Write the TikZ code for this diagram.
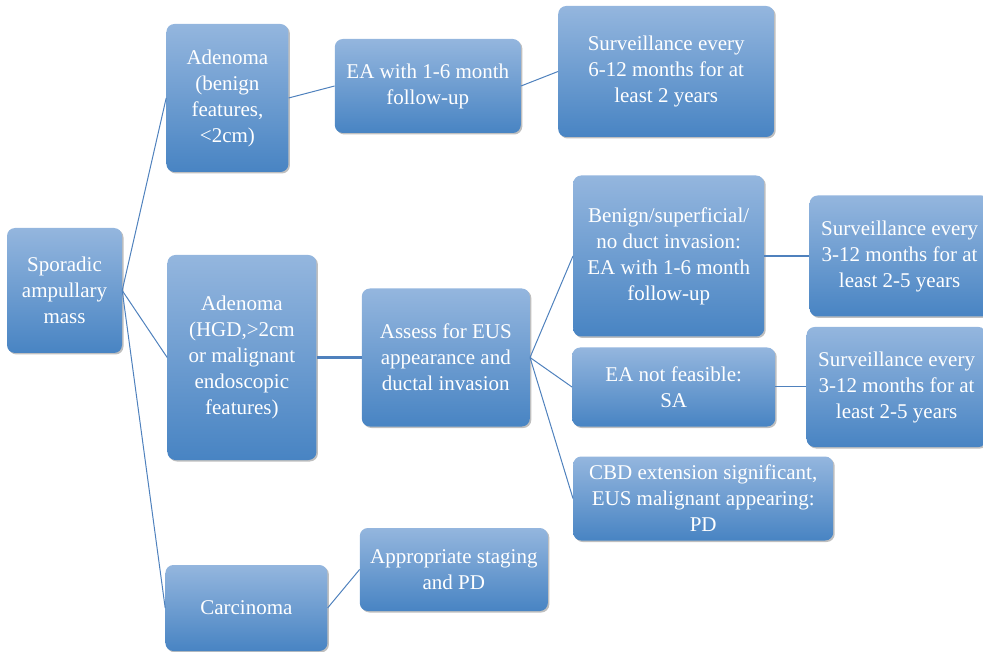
\documentclass[tikz,border=0pt]{standalone}
\usepackage{fontspec}
\setmainfont{Liberation Serif}
\usepackage{tikz}
\usetikzlibrary{positioning, shadows}
\definecolor{boxtop}{RGB}{148,182,222}
\definecolor{boxbottom}{RGB}{72,132,195}
\definecolor{linkblue}{RGB}{79,129,189}
\tikzset{
    box/.style={rectangle, rounded corners=8pt, top color=boxtop, bottom color=boxbottom, draw=none, text=white, align=center, inner sep=2pt, font=\fontsize{21}{26}\selectfont, drop shadow={shadow xshift=1.5pt, shadow yshift=-1.5pt, fill=black, opacity=0.25}},
    link/.style={draw=linkblue, line width=1pt},
    thicklink/.style={draw=linkblue, line width=2.5pt}
}
\begin{document}
\begin{tikzpicture}[x=1pt, y=1pt]
    \useasboundingbox (0,0) rectangle (983,-652);

    % root
    \node[box, minimum width=115pt, minimum height=125pt] (root) at (64.5,-290.5) {Sporadic\\ampullary\\mass};

    % second column
    \node[box, minimum width=122pt, minimum height=148pt, right=44pt of root, yshift=192.5pt] (adenoma_benign) {Adenoma\\(benign\\features,\\<2cm)};
    \node[box, minimum width=149pt, minimum height=205pt, right=45pt of root, yshift=-67pt] (adenoma_hgd) {Adenoma\\(HGD,>2cm\\or malignant\\endoscopic\\features)};
    \node[box, minimum width=162pt, minimum height=86pt, right=43pt of root, yshift=-317.5pt] (carcinoma) {Carcinoma};

    % third column
    \node[box, minimum width=186pt, minimum height=94pt, right=46pt of adenoma_benign, yshift=12pt] (ea_followup) {EA with 1-6 month\\follow-up};
    \node[box, minimum width=168pt, minimum height=138pt, right=45pt of adenoma_hgd] (assess_eus) {Assess for EUS\\appearance and\\ductal invasion};
    \node[box, minimum width=188pt, minimum height=83pt, right=32pt of carcinoma, yshift=38.5pt] (staging_pd) {Appropriate staging\\and PD};

    % fourth column
    \node[box, minimum width=216pt, minimum height=131pt, right=37pt of ea_followup, yshift=14.5pt] (surv_benign) {Surveillance every\\6-12 months for at\\least 2 years};
    \node[box, minimum width=191pt, minimum height=161pt, right=43pt of assess_eus, yshift=101.5pt] (benign_superficial) {Benign/superficial/\\no duct invasion:\\EA with 1-6 month\\follow-up};
    \node[box, minimum width=203pt, minimum height=79pt, right=42pt of assess_eus, yshift=-29.5pt] (ea_not_feasible) {EA not feasible:\\SA};
    \node[box, minimum width=260pt, minimum height=84pt, right=43pt of assess_eus, yshift=-141pt] (cbd_pd) {CBD extension significant,\\EUS malignant appearing:\\PD};

    % fifth column
    \node[box, minimum width=180pt, minimum height=121pt, right=45pt of benign_superficial] (surv_superficial) {Surveillance every\\3-12 months for at\\least 2-5 years};
    \node[box, minimum width=180pt, minimum height=120pt, right=31pt of ea_not_feasible] (surv_sa) {Surveillance every\\3-12 months for at\\least 2-5 years};

    % Lines
    \draw[link] (root.east) -- (adenoma_benign.west);
    \draw[link] (root.east) -- (adenoma_hgd.west);
    \draw[link] (root.east) -- (carcinoma.west);
    \draw[link] (adenoma_benign.east) -- (ea_followup.west);
    \draw[link] (ea_followup.east) -- (surv_benign.west);
    \draw[thicklink] (adenoma_hgd.east) -- (assess_eus.west);
    \draw[link] (assess_eus.east) -- (benign_superficial.west);
    \draw[link] (assess_eus.east) -- (ea_not_feasible.west);
    \draw[link] (assess_eus.east) -- (cbd_pd.west);
    \draw[thicklink] (benign_superficial.east) -- (surv_superficial.west);
    \draw[link] (ea_not_feasible.east) -- (surv_sa.west);
    \draw[link] (carcinoma.east) -- (staging_pd.west);
\end{tikzpicture}
\end{document}
